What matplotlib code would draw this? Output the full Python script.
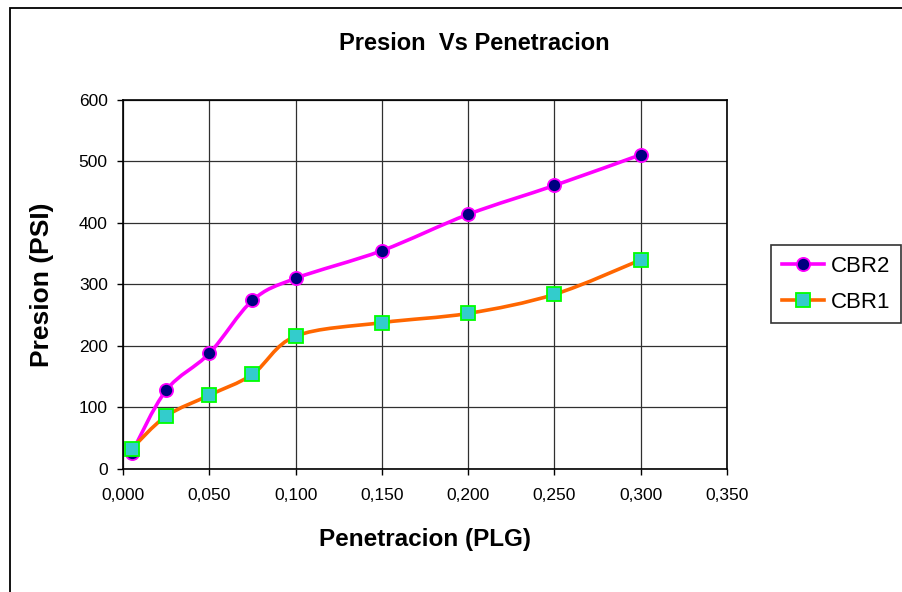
import numpy as np
import matplotlib.pyplot as plt
from matplotlib.path import Path
from matplotlib.patches import PathPatch, Rectangle
from matplotlib.lines import Line2D
from matplotlib.ticker import FuncFormatter, MultipleLocator

plt.rcParams['font.family'] = ['Liberation Sans', 'DejaVu Sans']

# Penetracion (PLG)
penetracion = [0.005, 0.025, 0.050, 0.075, 0.100, 0.150, 0.200, 0.250, 0.300]
# Presion (PSI)
cbr2 = [26, 128, 188, 274, 310, 355, 414, 461, 511]
cbr1 = [33, 86, 120, 154, 216, 238, 253, 284, 340]


# Excel-like smoothed line as bezier path through the data points
def smooth_path(x, y):
    pts = np.column_stack([x, y]).astype(float)
    n = len(pts)
    verts = [pts[0]]
    codes = [Path.MOVETO]
    for i in range(n - 1):
        p0 = pts[i - 1] if i > 0 else pts[i]
        p1 = pts[i]
        p2 = pts[i + 1]
        p3 = pts[i + 2] if i + 2 < n else pts[i + 1]
        c1 = p1 + (p2 - p0) / 6.0
        c2 = p2 - (p3 - p1) / 6.0
        verts += [c1, c2, p2]
        codes += [Path.CURVE4] * 3
    return Path(verts, codes)


fig = plt.figure(figsize=(9.02, 5.92), dpi=100)
ax = fig.add_axes([0.1364, 0.2078, 0.6696, 0.6233])

# outer chart border (top and left visible)
fig.patches.append(Rectangle((10 / 902, -0.1), 1.2, (592 - 8) / 592 + 0.1,
                             transform=fig.transFigure, fill=False,
                             edgecolor='black', linewidth=1.3))

series = [
    ('CBR2', cbr2, '#FF00FF', 'o', '#000080', '#FF00FF', 9.5),
    ('CBR1', cbr1, '#FF6600', 's', '#33CCCC', '#00FF00', 9.5),
]
handles = []
for name, vals, col, mk, fc, ec, ms in series:
    patch = PathPatch(smooth_path(penetracion, vals), facecolor='none',
                      edgecolor=col, linewidth=2.6, zorder=3)
    ax.add_patch(patch)
    ax.plot(penetracion, vals, linestyle='none', marker=mk, markersize=ms,
            markerfacecolor=fc, markeredgecolor=ec, markeredgewidth=1.3,
            zorder=4)
    handles.append(Line2D([], [], color=col, linewidth=2.6, marker=mk,
                          markersize=ms, markerfacecolor=fc,
                          markeredgecolor=ec, markeredgewidth=1.3,
                          label=name))

ax.set_xlim(0, 0.35)
ax.set_ylim(0, 600)
ax.xaxis.set_major_locator(MultipleLocator(0.05))
ax.yaxis.set_major_locator(MultipleLocator(100))
ax.xaxis.set_major_formatter(FuncFormatter(lambda v, p: f'{v:.3f}'.replace('.', ',')))
ax.grid(True, color='#303030', linewidth=0.9)
ax.set_axisbelow(True)
for s in ax.spines.values():
    s.set_color('black')
    s.set_linewidth(1.2)
ax.tick_params(direction='out', length=4, width=1, labelsize=12.5,
               colors='black')
ax.tick_params(axis='x', pad=10)
ax.tick_params(axis='y', pad=7)

fig.text(474 / 902, 1 - 44 / 592, 'Presion  Vs Penetracion',
         fontsize=17, fontweight='bold', ha='center', va='center')
ax.set_xlabel('Penetracion (PLG)', fontsize=17.5, fontweight='bold',
              labelpad=18)
ax.set_ylabel('Presion (PSI)', fontsize=19, fontweight='bold', labelpad=18)

leg = fig.legend(handles=handles, loc='upper left',
                 bbox_to_anchor=(771 / 902, 1 - 245 / 592), fontsize=16,
                 frameon=True, fancybox=False, edgecolor='black',
                 handlelength=1.9, handletextpad=0.3, borderpad=0.48,
                 labelspacing=0.68, borderaxespad=0)
leg.get_frame().set_linewidth(1.2)

fig.savefig('out.png', dpi=100)
